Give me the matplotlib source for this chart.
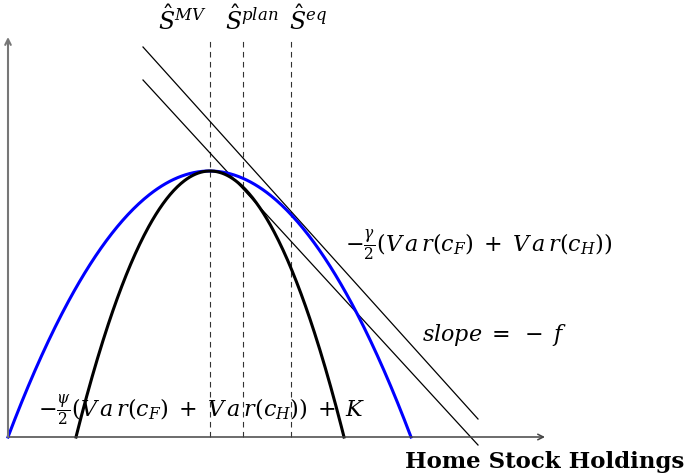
import numpy as np
import matplotlib.pyplot as plt

plt.rcParams['mathtext.fontset'] = 'dejavuserif'
plt.rcParams['font.family'] = 'DejaVu Serif'

# parabolas: (left root, right root, peak height)
blue_roots = [0.0, 4.03]
black_roots = [0.68, 3.36]
peak_height = 2.66

# holdings marked by the dashed guides
s_hat = [2.02, 2.35, 2.83]
s_labels = [r'$\hat{S}^{MV}$', r'$\hat{S}^{plan}$', r'$\hat{S}^{eq}$']
s_label_x = [1.74, 2.44, 3.00]

# budget lines with slope -f, (x0, y0, x1, y1)
upper_line = [1.35, 3.90, 4.70, 0.18]
lower_line = [1.35, 3.57, 4.70, -0.08]


def parabola(roots, h, n=300):
    a, b = roots
    x = np.linspace(a, b, n)
    y = h * (x - a) * (b - x) / ((b - a) / 2) ** 2
    return x, y


fig = plt.figure(figsize=(6.87, 4.76), dpi=100)
ax = fig.add_axes([0, 0, 1, 1])
ax.set_xlim(-0.08, 6.79)
ax.set_ylim(-0.39, 4.37)
ax.axis('off')

# axes with arrow heads
ax.annotate('', xy=(5.37, 0), xytext=(0, 0),
            arrowprops=dict(arrowstyle='->', color='#444444', lw=1.1,
                            shrinkA=0, shrinkB=0))
ax.annotate('', xy=(0, 4.0), xytext=(0, 0),
            arrowprops=dict(arrowstyle='->', color='#777777', lw=1.5,
                            shrinkA=0, shrinkB=0))

for xv in s_hat:
    ax.plot([xv, xv], [0, 3.99], color='#333333', lw=0.8,
            dashes=(5, 4))

for x_lab, lab in zip(s_label_x, s_labels):
    ax.text(x_lab, 4.17, lab, fontsize=17, ha='center', va='center')

for ln in (upper_line, lower_line):
    ax.plot([ln[0], ln[2]], [ln[1], ln[3]], color='black', lw=0.9)

bx, by = parabola(blue_roots, peak_height)
ax.plot(bx, by, color='#0000ff', lw=2.2)
kx, ky = parabola(black_roots, peak_height)
ax.plot(kx, ky, color='black', lw=2.2)

var_f = r'V\,a\,r(c_F)'
var_h = r'V\,a\,r(c_H)'
ax.text(3.37, 1.92, r'$-\frac{\gamma}{2}(' + var_f + r'\;+\;' + var_h + r')$',
        fontsize=16, ha='left', va='center')
ax.text(4.14, 1.02, r'$slope\;=\;-\;f$', fontsize=16, ha='left', va='center')
ax.text(0.30, 0.27,
        r'$-\frac{\psi}{2}(' + var_f + r'\;+\;' + var_h + r')\;+\;K$',
        fontsize=16, ha='left', va='center')
ax.text(3.97, -0.25, 'Home Stock Holdings', fontsize=16.5,
        fontweight='bold', ha='left', va='center')

fig.savefig('out.png', dpi=100)
